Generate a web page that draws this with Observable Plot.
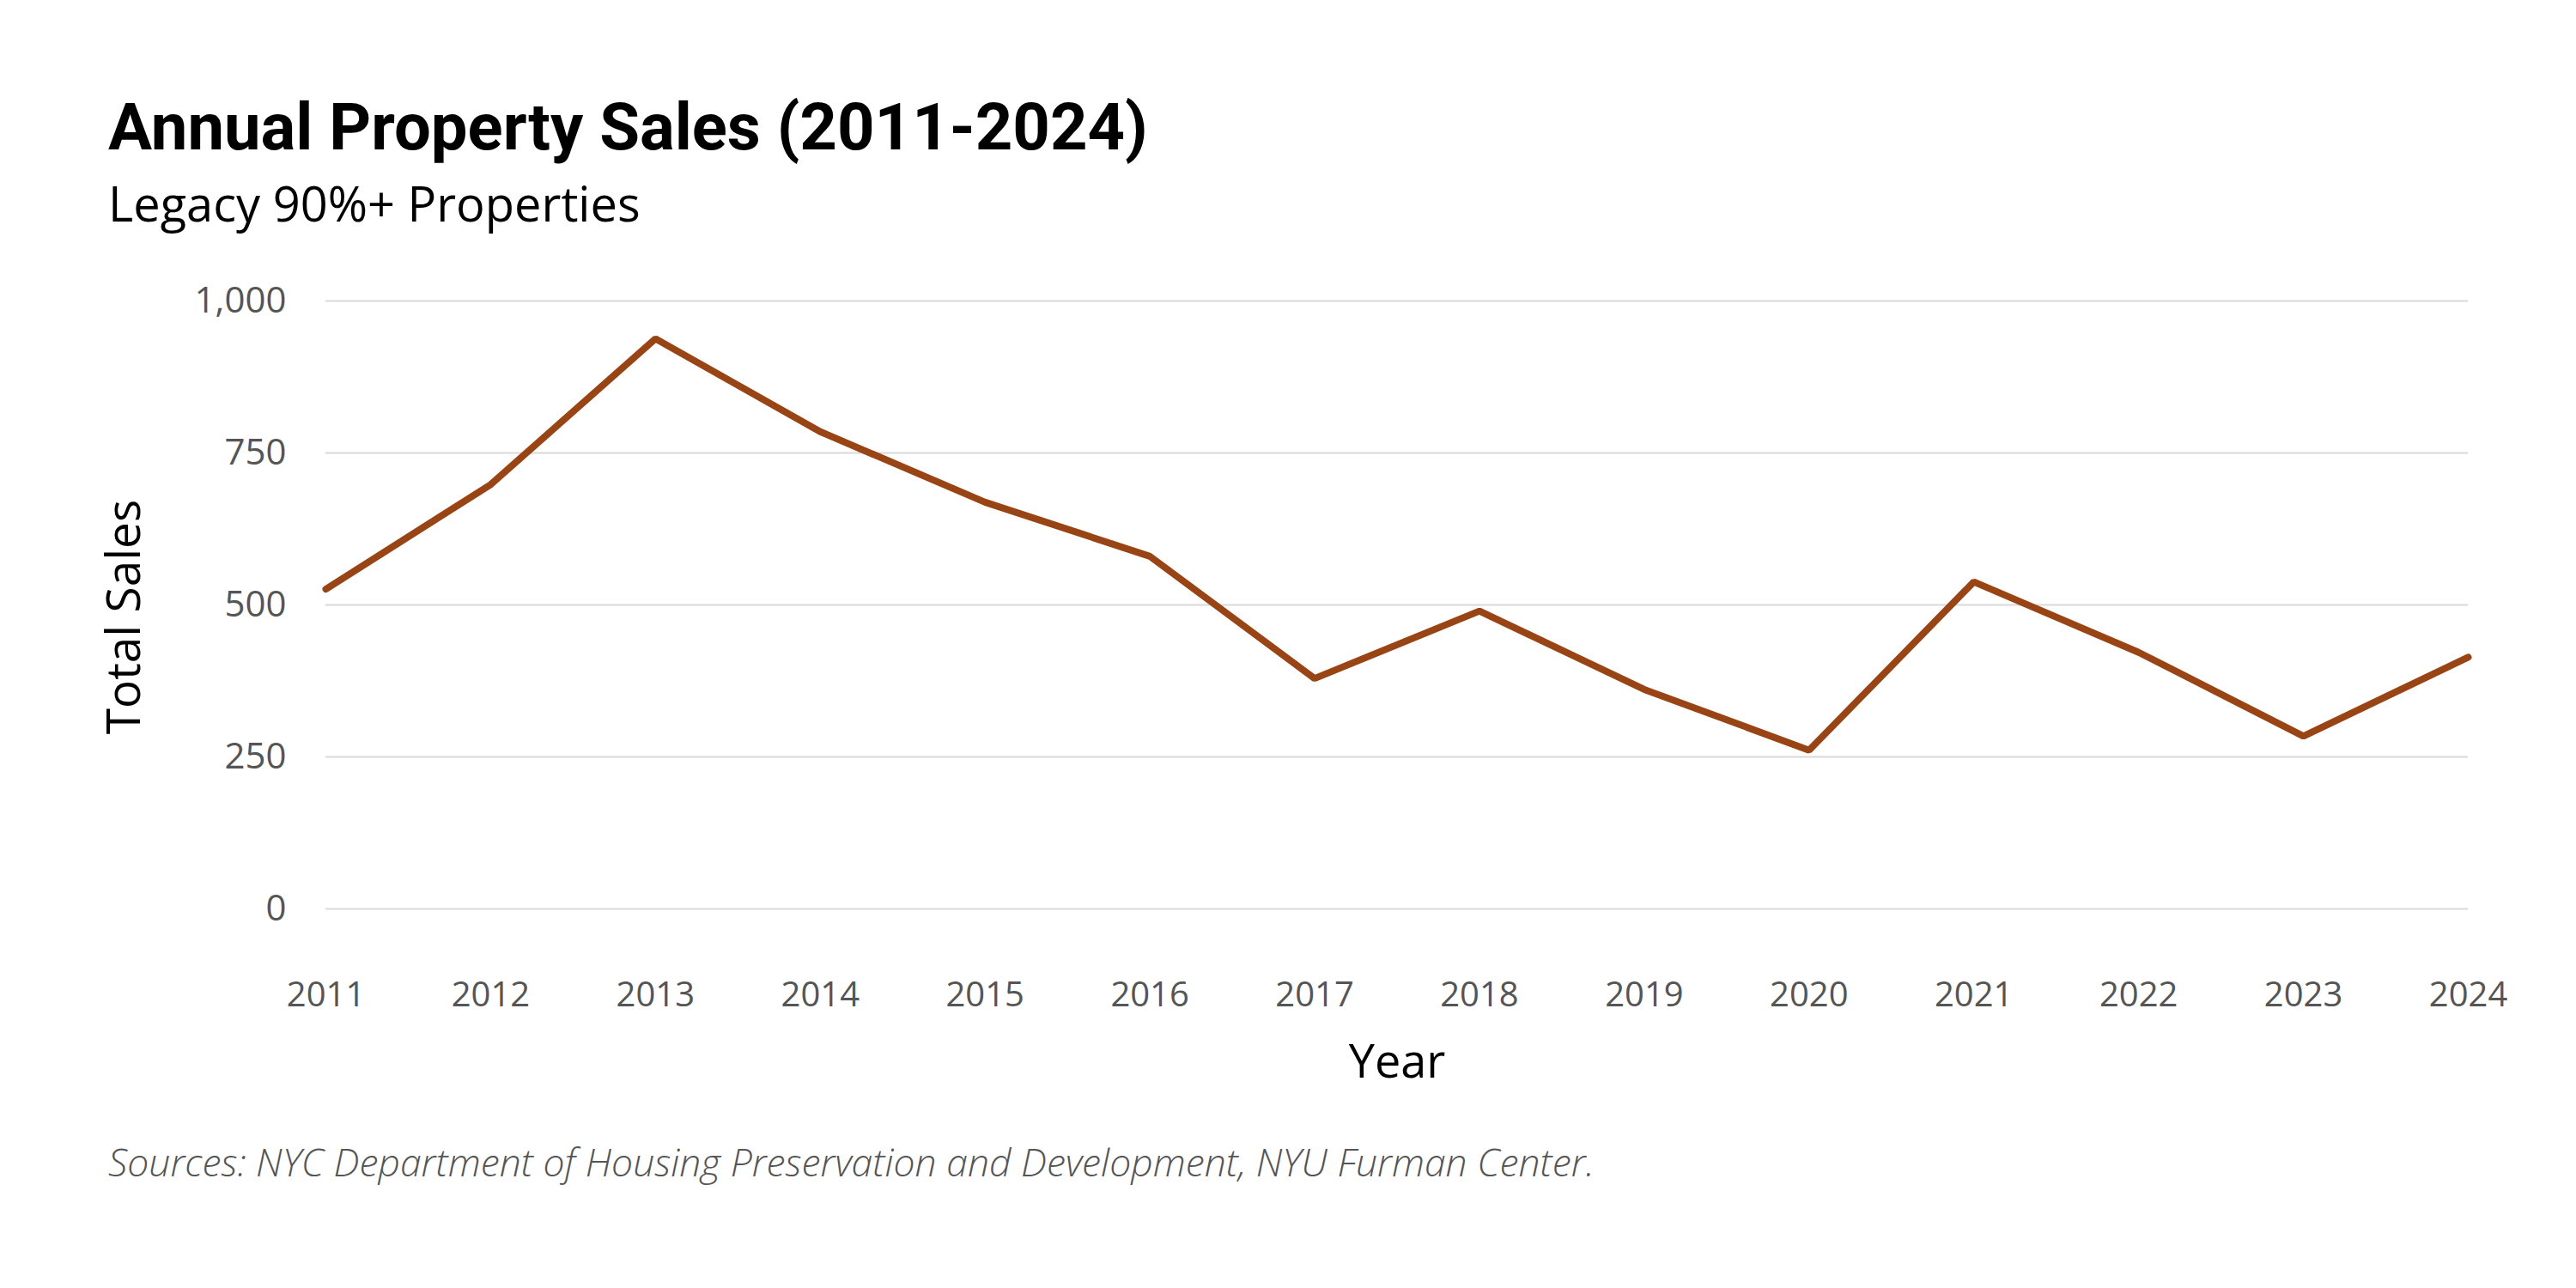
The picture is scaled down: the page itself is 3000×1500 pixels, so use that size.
<!DOCTYPE html>
<html>
<head>
<meta charset="utf-8">
<script src="https://cdn.jsdelivr.net/npm/d3@7"></script>
<script src="https://cdn.jsdelivr.net/npm/@observablehq/plot@0.6"></script>
<style>
  html, body { margin: 0; padding: 0; background: #fff; }
  #wrap { position: relative; width: 3000px; height: 1500px; background: #fff; }
  #title { position: absolute; left: 126px; top: 110px; font-family: Roboto, sans-serif; font-weight: 700; font-size: 76px; line-height: 1; color: #000; }
  #subtitle { position: absolute; left: 126px; top: 208px; font-family: "Open Sans", sans-serif; font-weight: 400; font-size: 56px; line-height: 1; color: #000; }
  #chart { position: absolute; left: 0; top: 300px; }
  #caption { position: absolute; left: 126px; top: 1331px; font-family: "Open Sans", sans-serif; font-style: italic; font-weight: 300; font-size: 44.5px; line-height: 1; color: #555; }
</style>
</head>
<body>
<div id="wrap">
  <div id="title">Annual Property Sales (2011-2024)</div>
  <div id="subtitle">Legacy 90%+ Properties</div>
  <div id="chart"></div>
  <div id="caption">Sources: NYC Department of Housing Preservation and Development, NYU Furman Center.</div>
</div>
<script>
const years = [2011, 2012, 2013, 2014, 2015, 2016, 2017, 2018, 2019, 2020, 2021, 2022, 2023, 2024];
const sales = [526, 698, 938, 785, 669, 580, 379, 490, 361, 261, 538, 422, 284, 414];
const yTicks = [0, 250, 500, 750, 1000];

const data = years.map((year, i) => ({year, sales: sales[i]}));

const chart = Plot.plot({
  width: 3000,
  height: 1000,
  marginTop: 50,
  marginBottom: 242,
  marginLeft: 379,
  marginRight: 126,
  style: {fontFamily: "'Open Sans', sans-serif", fontSize: "40px", color: "#555", background: "#fff"},
  x: {domain: [2011, 2024], ticks: years, tickFormat: d => String(d), tickSize: 0, tickPadding: 87, label: null},
  y: {domain: [0, 1000], ticks: yTicks, tickFormat: d3.format(","), tickSize: 0, tickPadding: 46, label: null},
  marks: [
    Plot.ruleY(yTicks, {stroke: "#d9d9d9", strokeWidth: 2}),
    Plot.line(data, {x: "year", y: "sales", stroke: "#984414", strokeWidth: 8, strokeLinejoin: "miter"}),
    Plot.axisX({ticks: years, tickFormat: d => String(d), tickSize: 0, tickPadding: 85, fill: "#555", label: null}),
    Plot.axisY({ticks: yTicks, tickFormat: d3.format(","), tickSize: 0, tickPadding: 46, fill: "#555", fontSize: 42, label: null}),
    Plot.text(["Year"], {frameAnchor: "bottom", dy: 196, fontSize: 54, fill: "#000"}),
    Plot.text(["Total Sales"], {frameAnchor: "left", textAnchor: "middle", dx: -234, dy: 14, rotate: -90, fontSize: 55, fill: "#000"})
  ]
});
document.getElementById("chart").appendChild(chart);
</script>
</body>
</html>
